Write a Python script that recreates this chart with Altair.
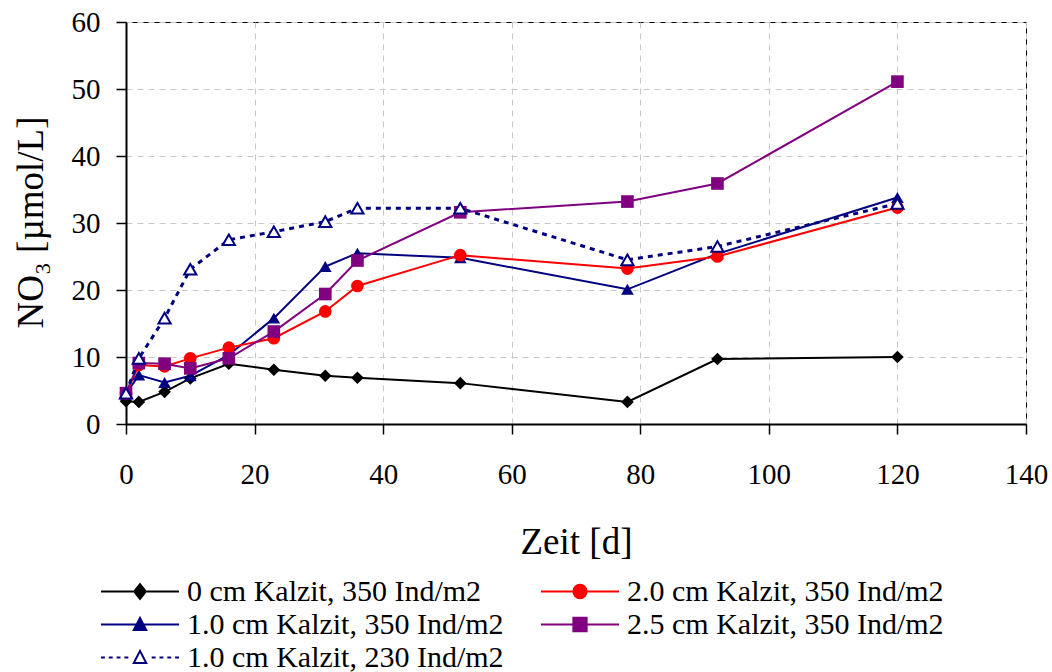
import altair as alt
import pandas as pd

# ---- data ----
days = [0, 2, 6, 10, 16, 23, 31, 36, 52, 78, 92, 120]

series_names = [
    "0 cm Kalzit, 350 Ind/m2",
    "1.0 cm Kalzit, 350 Ind/m2",
    "2.0 cm Kalzit, 350 Ind/m2",
    "2.5 cm Kalzit, 350 Ind/m2",
    "1.0 cm Kalzit, 230 Ind/m2",
]
v_0cm_350 = [3.4, 3.3, 4.8, 6.8, 9.0, 8.1, 7.2, 6.9, 6.1, 3.3, 9.7, 10.0]
v_10cm_350 = [4.5, 7.3, 6.2, 7.2, 10.3, 15.8, 23.5, 25.5, 24.8, 20.1, 25.4, 33.8]
v_20cm_350 = [4.5, 8.8, 8.6, 9.8, 11.4, 12.8, 16.8, 20.6, 25.2, 23.2, 25.0, 32.3]
v_25cm_350 = [4.6, 9.1, 9.0, 8.3, 9.8, 13.8, 19.4, 24.4, 31.6, 33.2, 35.9, 51.1]
v_10cm_230 = [4.6, 9.8, 15.8, 23.1, 27.5, 28.7, 30.2, 32.2, 32.2, 24.5, 26.5, 32.9]

all_values = [v_0cm_350, v_10cm_350, v_20cm_350, v_25cm_350, v_10cm_230]

# legend is filled column by column (3 rows x 2 columns)
legend_order = [
    "0 cm Kalzit, 350 Ind/m2",
    "1.0 cm Kalzit, 350 Ind/m2",
    "1.0 cm Kalzit, 230 Ind/m2",
    "2.0 cm Kalzit, 350 Ind/m2",
    "2.5 cm Kalzit, 350 Ind/m2",
]

x_ticks = [0, 20, 40, 60, 80, 100, 120, 140]
y_ticks = [0, 10, 20, 30, 40, 50, 60]

# ---- styles ----
FONT = "Liberation Serif"
filled_names = series_names[:4]
open_name = series_names[4]
filled_colors = ["#000000", "#000080", "#FF0000", "#800080"]
filled_shapes = ["diamond", "triangle-up", "circle", "square"]

leg_fill = ["#000000", "#000080", "#FFFFFF", "#FF0000", "#800080"]
leg_stroke = ["#000000", "#000080", "#000080", "#FF0000", "#800080"]
leg_shapes = [
    "M-1,0H1M0,-0.19L0.15,0L0,0.19L-0.15,0Z",
    "M-1,0H1M0,-0.17L0.16,0.14L-0.16,0.14Z",
    "M-1,0H-0.9M-0.8,0H-0.7M-0.6,0H-0.5M-0.4,0H-0.3M0.3,0H0.4M0.5,0H0.6M0.7,0H0.8M0.9,0H1"
    "M0,-0.17L0.16,0.14L-0.16,0.14Z",
    "M-1,0H1M0.17,0A0.17,0.17,0,1,1,-0.17,0A0.17,0.17,0,1,1,0.17,0Z",
    "M-1,0H1M-0.17,-0.17H0.17V0.17H-0.17Z",
]

rows = []
for name, vals in zip(series_names, all_values):
    for d, v in zip(days, vals):
        rows.append({"day": d, "value": v, "series": name})
df = pd.DataFrame(rows)

x_enc = alt.X(
    "day:Q",
    scale=alt.Scale(domain=[0, 140], nice=False),
    axis=alt.Axis(
        values=x_ticks, title="Zeit [d]", titleX=450, titleY=129,
        titleBaseline="alphabetic", titleAlign="center",
        labelPadding=26,
    ),
)
y_enc = alt.Y(
    "value:Q",
    scale=alt.Scale(domain=[0, 60], nice=False),
    axis=alt.Axis(
        values=y_ticks, title="NO₃ [µmol/L]", titleX=-84, titleY=200,
        titleAngle=270, titleBaseline="alphabetic", titleAlign="center",
        labelPadding=16,
    ),
)

base = alt.Chart(df)

color_enc = alt.Color(
    "series:N",
    scale=alt.Scale(domain=filled_names, range=filled_colors),
    legend=None,
)

solid_lines = base.transform_filter(
    alt.FieldOneOfPredicate(field="series", oneOf=filled_names)
).mark_line(strokeWidth=2).encode(x=x_enc, y=y_enc, color=color_enc)

dotted_line = base.transform_filter(
    alt.datum.series == open_name
).mark_line(strokeWidth=3, strokeDash=[5, 5], color="#000080").encode(x=x_enc, y=y_enc)

filled_points = base.transform_filter(
    alt.FieldOneOfPredicate(field="series", oneOf=filled_names)
).mark_point(filled=True, size=160, opacity=1).encode(
    x=x_enc,
    y=y_enc,
    color=color_enc,
    shape=alt.Shape(
        "series:N",
        scale=alt.Scale(domain=filled_names, range=filled_shapes),
        legend=None,
    ),
)

open_points = base.transform_filter(
    alt.datum.series == open_name
).mark_point(
    shape="triangle-up", filled=False, fill="#FFFFFF", stroke="#000080",
    strokeWidth=2, size=150, opacity=1,
).encode(x=x_enc, y=y_enc)

plot = alt.layer(solid_lines, dotted_line, filled_points, open_points)

legend_layer = base.transform_filter("false").mark_point(
    size=6084, opacity=1, strokeWidth=2
).encode(
    shape=alt.Shape(
        "series:N",
        scale=alt.Scale(domain=legend_order, range=leg_shapes),
        legend=alt.Legend(title=None),
    ),
    fill=alt.Fill(
        "series:N",
        scale=alt.Scale(domain=legend_order, range=leg_fill),
        legend=alt.Legend(title=None),
    ),
    stroke=alt.Stroke(
        "series:N",
        scale=alt.Scale(domain=legend_order, range=leg_stroke),
        legend=alt.Legend(title=None),
    ),
)

chart = alt.layer(plot, legend_layer).resolve_scale(
    shape="independent", color="independent", fill="independent", stroke="independent"
).properties(
    width=900,
    height=402,
    autosize=alt.AutoSizeParams(type="none"),
    padding={"left": 126, "top": 22, "right": 26, "bottom": 248},
).configure(
    background="white", font=FONT
).configure_view(
    stroke="black", strokeWidth=1
).configure_axis(
    labelFont=FONT, labelFontSize=29, labelColor="black", labelFlush=False,
    titleFont=FONT, titleFontSize=37, titleFontWeight="normal", titleColor="black",
    tickSize=10, tickColor="black", tickWidth=1.5,
    domainColor="black", domainWidth=2,
    grid=True, gridDash=[6, 5], gridColor="#C8C8C8", gridWidth=1,
).configure_legend(
    orient="none", legendX=-26, legendY=553, columns=2,
    columnPadding=36, rowPadding=0, clipHeight=33, symbolSize=6084,
    symbolStrokeWidth=2, symbolOpacity=1, symbolOffset=0,
    labelFont=FONT, labelFontSize=30, labelColor="black",
    labelLimit=700, labelOffset=7, padding=0,
)

chart.save("out.html", embed_options={"renderer": "svg", "actions": False})
